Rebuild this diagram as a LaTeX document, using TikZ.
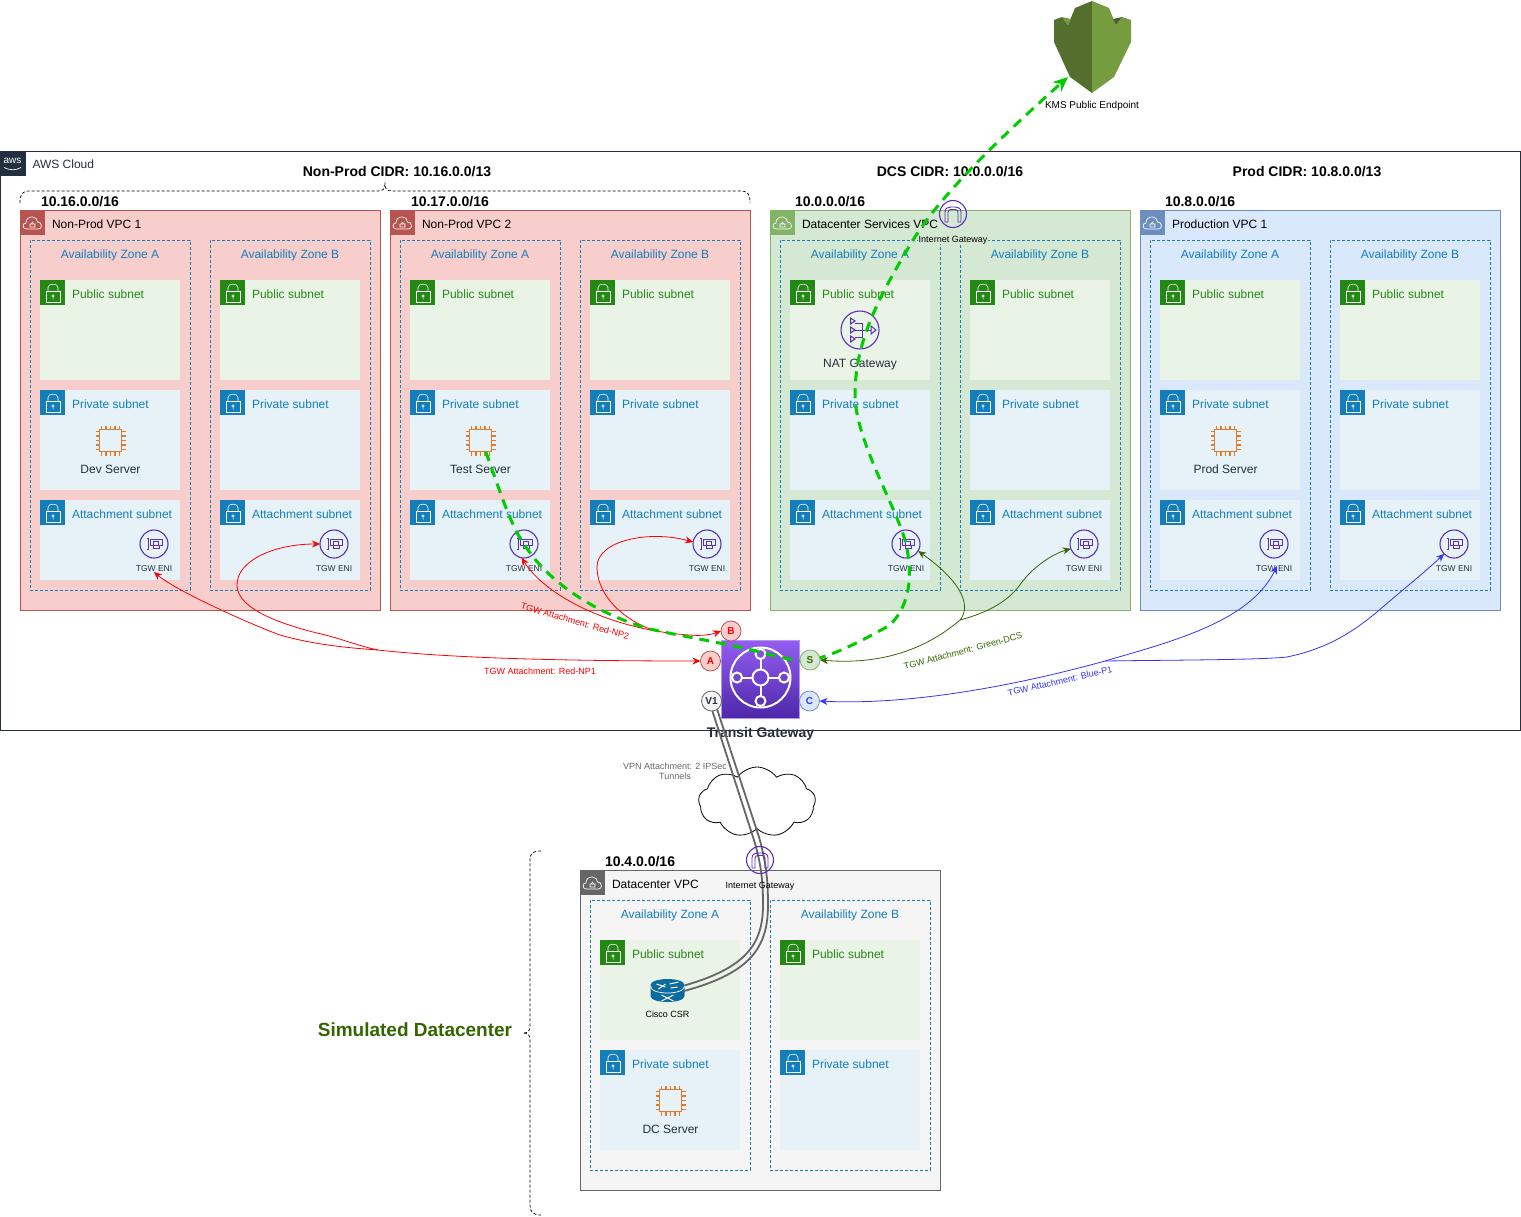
\documentclass[tikz,border=0pt]{standalone}
\usepackage{fontspec}
\setmainfont{Liberation Sans}
\usetikzlibrary{positioning,shapes.symbols,arrows.meta}

\definecolor{awsline}{HTML}{232F3E}
\definecolor{npfill}{HTML}{F8CECC}
\definecolor{npline}{HTML}{B85450}
\definecolor{dcsfill}{HTML}{D5E8D4}
\definecolor{dcsline}{HTML}{82B366}
\definecolor{prodfill}{HTML}{DAE8FC}
\definecolor{prodline}{HTML}{6C8EBF}
\definecolor{simfill}{HTML}{F5F5F5}
\definecolor{simline}{HTML}{666666}
\definecolor{pubfill}{HTML}{E9F3E6}
\definecolor{pubdark}{HTML}{248814}
\definecolor{privfill}{HTML}{E6F2F8}
\definecolor{privdark}{HTML}{147EBA}
\definecolor{iconpurple}{HTML}{5A30B5}
\definecolor{chiporange}{HTML}{E07B2E}
\definecolor{routerblue}{HTML}{0A6C9E}
\definecolor{redflow}{HTML}{FF0000}
\definecolor{greenflow}{HTML}{336600}
\definecolor{blueflow}{HTML}{3333FF}
\definecolor{kmsflow}{HTML}{00CC00}
\definecolor{kmsdark}{HTML}{546E2D}
\definecolor{kmslight}{HTML}{759C3E}
\definecolor{kmsnotch}{HTML}{4B612C}
\definecolor{tgwtop}{HTML}{945DF2}
\definecolor{tgwbottom}{HTML}{4D27AA}
\definecolor{tgwedge}{HTML}{B296F0}

\tikzset{
  >={Stealth[length=8pt,width=7pt]},
  awsframe/.style={draw=awsline, line width=0.9pt, anchor=north west, inner sep=0, outer sep=0},
  vpcframe/.style 2 args={draw=#2, fill=#1, line width=0.8pt, anchor=north west, inner sep=0, outer sep=0, minimum width=360pt},
  headbox/.style={minimum size=25pt, inner sep=0, outer sep=0, anchor=north west},
  azframe/.style={draw=privdark, line width=0.8pt, dash pattern=on 3pt off 2pt, anchor=north west, inner sep=0, outer sep=0, minimum width=160pt},
  subnetbg/.style={minimum width=140pt, inner sep=0, outer sep=0},
  lbl/.style={inner sep=0, outer sep=0, yshift=-1pt, font=\fontsize{12}{14}\selectfont, text height=9pt, text depth=2.5pt},
  smalllbl/.style={inner sep=0, outer sep=0, font=\fontsize{8.5}{10}\selectfont, text=awsline},
  linklbl/.style={inner sep=0, outer sep=0, font=\fontsize{9}{10.5}\selectfont},
  cidrlbl/.style={inner sep=0, outer sep=0, yshift=-1pt, font=\bfseries\fontsize{14}{16}\selectfont},
  iconring/.style={circle, draw=iconpurple, line width=1.1pt, inner sep=0, outer sep=0},
  chipcore/.style={draw=chiporange, line width=1.3pt, minimum size=22pt, inner sep=0, outer sep=0},
  hub/.style={circle, minimum size=20pt, line width=0.8pt, inner sep=0, outer sep=0, font=\bfseries\fontsize{10}{12}\selectfont},
  bracket/.style={draw=black, line width=0.7pt, dash pattern=on 3pt off 2pt},
  redlink/.style={draw=redflow, line width=0.8pt},
  greenlink/.style={draw=greenflow, line width=0.8pt},
  bluelink/.style={draw=blueflow, line width=0.8pt},
  vpnlink/.style={draw=simline, line width=1.8pt},
  kmslink/.style={draw=kmsflow, line width=3pt, dash pattern=on 10pt off 7pt, -{Stealth[length=15pt,width=13pt]}},
  lockglyph/.pic={
    \draw[white, line width=0.6pt] (-6.5,-1.5) rectangle (7.5,9.5);
    \draw[white, line width=0.6pt] (-4.5,-1.5) -- (-4.5,-5) .. controls (-4.5,-9.5) and (5.5,-9.5) .. (5.5,-5) -- (5.5,-1.5);
    \draw[white, line width=0.5pt] (0.5,3.5) circle (1.2) (0.5,4.7) -- (0.5,7);
  },
  cloudglyph/.pic={
    \draw[white, line width=0.7pt] (-6,6.5) .. controls (-10.5,6.5) and (-10.5,0.5) .. (-6.5,0.5) .. controls (-7,-3.5) and (-3,-6) .. (0,-5.5) .. controls (3,-5.5) and (5,-3) .. (5,-0.5) .. controls (9.5,-1) and (10.5,6.5) .. (6,6.5) -- cycle;
    \draw[white, line width=0.6pt] (-2.5,1.5) rectangle (2.5,4.5) (-1.5,1.5) .. controls (-1.5,-1) and (1.5,-1) .. (1.5,1.5);
  },
  eniglyph/.pic={
    \draw[iconpurple, line width=1pt] (-7.5,-5.5) -- (-6,-5.5) -- (-6,5.5) -- (-7.5,5.5);
    \draw[iconpurple, line width=1pt] (-4,-5) -- (8,-5) -- (8,1.5) -- (5.5,1.5) -- (5.5,4.5) -- (-1,4.5) -- (-1,1.5) -- (-4,1.5) -- cycle;
    \draw[iconpurple, line width=0.8pt] (-1,-2.5) rectangle (4,1);
  },
  igwglyph/.pic={
    \draw[iconpurple, line width=0.9pt] (-8,8) -- (-8,-2) .. controls (-8,-6) and (-5,-7) .. (-2,-7) -- (2,-7) .. controls (5,-7) and (8,-6) .. (8,-2) -- (8,8) -- (5,8) -- (5,-2) .. controls (5,-4) and (3,-4.5) .. (2,-4.5) -- (-2,-4.5) .. controls (-3,-4.5) and (-5,-4) .. (-5,-2) -- (-5,8) -- cycle;
  },
  natglyph/.pic={
    \foreach \ny in {-9,0,9} {
      \draw[iconpurple, line width=1pt] (-9.5,\ny-3) -- (-9.5,\ny+3) -- (-5,\ny) -- cycle;
    }
    \draw[iconpurple, line width=1pt] (-5,-7) -- (2,-7) -- (2,7) -- (-5,7) (-5,0) -- (11,0);
    \draw[iconpurple, line width=1pt] (11,-4) -- (16,0) -- (11,4) -- cycle;
  },
  chippins/.pic={
    \foreach \pp in {-8.8,-4.4,0,4.4,8.8} {
      \draw[chiporange, line width=1.3pt] (\pp,-11) -- (\pp,-15) (\pp,11) -- (\pp,15) (-11,\pp) -- (-15,\pp) (11,\pp) -- (15,\pp);
    }
  },
  routerglyph/.pic={
    \fill[routerblue] (-17,-5) -- (-17,6) .. controls (-17,10) and (-8,12) .. (0,12) .. controls (8,12) and (17,10) .. (17,6) -- (17,-5) .. controls (17,-9) and (8,-11) .. (0,-11) .. controls (-8,-11) and (-17,-9) .. (-17,-5) -- cycle;
    \draw[white, line width=0.7pt] (-17,-4) .. controls (-17,1) and (-8,3) .. (0,3) .. controls (8,3) and (17,1) .. (17,-4);
    \draw[white, line width=1pt] (-11,-6) -- (-2,-3) (2,-6) -- (11,-8) (-9,-1) -- (-2,-6) (3,-2) -- (10,-3);
    \draw[white, line width=1pt] (-6,5) -- (6,11) (6,5) -- (-6,11);
  }
}

% one subnet: green or blue panel, padlock square, caption
\newcommand{\subnetbox}[6]{
  \node[subnetbg, fill=#4, minimum height=#3pt, #2] (#1) {};
  \node[headbox, fill=#5] (#1head) at (#1.north west) {};
  \pic at (#1head.center) {lockglyph};
  \node[lbl, text=#5, right=7pt of #1head, yshift=-1.5pt] (#1txt) {#6};
}

% one zone with its public and private subnets
\newcommand{\azcolumn}[4]{
  \node[azframe, minimum height=#4pt] (#1) at (#2,#3) {};
  \subnetbox{#1pub}{below right=40pt and 10pt of #1.north west, anchor=north west}{100}{pubfill}{pubdark}{Public subnet}
  \subnetbox{#1priv}{below=10pt of #1pub}{100}{privfill}{privdark}{Private subnet}
}

% vpc panel and header
\newcommand{\vpcblock}[7]{
  \node[vpcframe={#5}{#6}, minimum height=#4pt] (#1) at (#2,#3) {};
  \node[headbox, fill=#6] (#1head) at (#1.north west) {};
  \pic at (#1head.center) {cloudglyph};
  \node[lbl, text=black, right=7pt of #1head, yshift=-1.5pt] (#1title) {#7};
}

% attachment subnet with its eni
\newcommand{\attachrow}[2]{
  \subnetbox{#1att}{below=10pt of #1priv}{80}{privfill}{privdark}{Attachment subnet}
  \node[iconring, minimum size=28pt] (#1eni) at (#2,544) {};
  \pic at (#1eni) {eniglyph};
  \node[smalllbl] (#1enitxt) at (#2,569) {TGW ENI};
}

\begin{document}
\begin{tikzpicture}[x=1pt,y=-1pt]
  \useasboundingbox (0,0) rectangle (1521,1216);

  % AWS cloud frame
  \node[awsframe, minimum width=1520pt, minimum height=579pt] (awscloud) at (0.5,151) {};
  \node[headbox, fill=awsline] (awshead) at (awscloud.north west) {};
  \node[inner sep=0, text=white, font=\fontsize{10}{10}\selectfont] (awslogo) at (12.5,160.5) {aws};
  \draw[white, line width=0.7pt] (4,167.5) .. controls (10,170.5) and (16,170.5) .. (21,167.5);
  \node[lbl, text=awsline, right=7pt of awshead, yshift=-1pt] (awstitle) {AWS Cloud};

  % CIDR captions
  \node[cidrlbl] (npcidr) at (397,171) {Non-Prod CIDR: 10.16.0.0/13};
  \node[cidrlbl] (dcscidr) at (950,171) {DCS CIDR: 10.0.0.0/16};
  \node[cidrlbl] (prodcidr) at (1307,171) {Prod CIDR: 10.8.0.0/13};
  \node[cidrlbl, anchor=west] (np1cidr) at (41,201) {10.16.0.0/16};
  \node[cidrlbl, anchor=west] (np2cidr) at (411,201) {10.17.0.0/16};
  \node[cidrlbl, anchor=west] (dcsvpccidr) at (795,201) {10.0.0.0/16};
  \node[cidrlbl, anchor=west] (prodvpccidr) at (1165,201) {10.8.0.0/16};
  \node[cidrlbl, anchor=west] (simcidr) at (605,861) {10.4.0.0/16};

  % Non-Prod bracket
  \coordinate (npbrakeleft) at (20,203);
  \coordinate (npbrakeright) at (750,203);
  \draw[bracket] (npbrakeleft) .. controls (20,194) and (22,191) .. (30,191) -- (378,191) .. controls (383,191) and (385,189) .. (385,184) .. controls (385,189) and (387,191) .. (392,191) -- (740,191) .. controls (748,191) and (750,194) .. (npbrakeright);

  % VPCs
  \foreach \vn/\vx/\vfill/\vline/\vtext/\enia/\enib in {
    np1/20/npfill/npline/Non-Prod VPC 1/154/334,
    np2/390/npfill/npline/Non-Prod VPC 2/524/707,
    dcs/770/dcsfill/dcsline/Datacenter Services VPC/906/1084,
    prod/1140/prodfill/prodline/Production VPC 1/1274/1454} {
    \vpcblock{\vn}{\vx}{210}{400}{\vfill}{\vline}{\vtext}
    \azcolumn{\vn a}{\vx+10}{240}{350}
    \azcolumn{\vn b}{\vx+190}{240}{350}
    \node[lbl, text=privdark, below=8pt of \vn a.north] (\vn atxt) {Availability Zone A};
    \node[lbl, text=privdark, below=8pt of \vn b.north] (\vn btxt) {Availability Zone B};
    \attachrow{\vn a}{\enia}
    \attachrow{\vn b}{\enib}
  }

  % NAT gateway
  \node[iconring, minimum size=38pt] (natgw) at (860,330) {};
  \pic at (natgw) {natglyph};
  \node[lbl, text=awsline, below=8pt of natgw] (natgwtxt) {NAT Gateway};

  % Internet gateway of the DCS VPC
  \node[smalllbl, font=\fontsize{9}{10}\selectfont, fill=dcsfill, inner xsep=1pt, text=black] (dcsigwtxt) at (953,240) {Internet Gateway};
  \node[iconring, minimum size=27pt] (dcsigw) at (953,214) {};
  \pic at (dcsigw) {igwglyph};

  % KMS shield
  \fill[kmsdark] (1092,1) -- (1075,8) -- (1068,25) -- (1062,17) -- (1054,20) -- (1054,42) -- (1070,77) -- (1092,93) -- cycle;
  \fill[kmslight] (1092,1) -- (1109,8) -- (1116,25) -- (1122,17) -- (1131,20) -- (1131,42) -- (1114,77) -- (1092,93) -- cycle;
  \fill[kmslight] (1062,17) -- (1068,25) -- (1071,19) -- cycle;
  \fill[kmsnotch] (1122,17) -- (1116,25) -- (1113,19) -- cycle;
  \node[smalllbl, font=\fontsize{10}{11}\selectfont, text=black] (kmstxt) at (1092,106) {KMS Public Endpoint};
  \coordinate (kmsgate) at (1068,77);

  % Simulated datacenter
  \node[lbl, font=\bfseries\fontsize{19}{21}\selectfont, text=greenflow, text height=13pt, text depth=4pt] (simtxt) at (415,1031) {Simulated Datacenter};
  \coordinate (simbrakeup) at (541,851);
  \coordinate (simbrakedown) at (541,1215);
  \draw[bracket] (simbrakeup) .. controls (533,851) and (530,853) .. (530,860) -- (530,1026) .. controls (530,1031) and (528,1033) .. (523,1033) .. controls (528,1033) and (530,1035) .. (530,1040) -- (530,1205) .. controls (530,1212) and (533,1215) .. (simbrakedown);

  \vpcblock{sim}{580}{870}{320}{simfill}{simline}{Datacenter VPC}
  \azcolumn{sima}{590}{900}{270}
  \azcolumn{simb}{770}{900}{270}
  \node[lbl, text=privdark, below=8pt of sima.north] (simatxt) {Availability Zone A};
  \node[lbl, text=privdark, below=8pt of simb.north] (simbtxt) {Availability Zone B};

  % Servers
  \foreach \sn/\sx/\sy/\stext in {devsrv/110.5/440.5/Dev Server, testsrv/480.5/440.5/Test Server, prodsrv/1225.5/440.5/Prod Server, dcsrv/670.5/1100.5/DC Server} {
    \node[chipcore] (\sn) at (\sx,\sy) {};
    \pic at (\sn) {chippins};
    \node[lbl, text=awsline, below=12pt of \sn] (\sn txt) {\stext};
  }

  % Cisco router
  \node[minimum width=34pt, minimum height=24pt, inner sep=0, outer sep=0] (cscrouter) at (667.5,990) {};
  \pic at (cscrouter) {routerglyph};
  \node[smalllbl, font=\fontsize{9}{10}\selectfont, text=black] (cscrtxt) at (667.5,1014) {Cisco CSR};

  % VPN cloud
  \node[cloud, draw=black, fill=white, line width=0.8pt, cloud puffs=9, cloud puff arc=110, aspect=1.65, minimum width=117pt, minimum height=70pt, inner sep=0, outer sep=0] (vpncloud) at (757,802) {};
  \node[smalllbl, font=\fontsize{9}{10}\selectfont, text=simline, align=center] (vpntxt) at (675,771) {VPN Attachment: 2 IPSec\\Tunnels};

  % Transit gateway
  \node[top color=tgwtop, bottom color=tgwbottom, draw=tgwedge, line width=0.8pt, minimum size=78pt, inner sep=0, outer sep=0] (tgw) at (760.5,679.5) {};
  \draw[white, line width=2pt] (760.5,677.5) circle (30);
  \draw[white, line width=2pt] (760.5,654) -- (760.5,701) (737,677.5) -- (784,677.5);
  \foreach \cx/\cy/\cr/\cfill in {760.5/654/5/8451E0, 737/677.5/5/7143CF, 784/677.5/5/7143CF, 760.5/701/5/5D35B9, 760.5/677.5/8/7143CF} {
    \definecolor{cellfill}{HTML}{\cfill}
    \draw[white, fill=cellfill, line width=2pt] (\cx,\cy) circle (\cr);
  }
  \node[lbl, font=\bfseries\fontsize{14}{16}\selectfont, text=awsline, text height=10pt, text depth=3pt] (tgwtxt) at (760.5,733) {Transit Gateway};

  % Attachment points
  \node[hub, draw=npline, fill=npfill, text=redflow] (hubb) at (731,631) {B};
  \node[hub, draw=npline, fill=npfill, text=redflow] (huba) at (710.5,661) {A};
  \node[hub, draw=prodline, fill=prodfill, text=blueflow] (hubc) at (809.5,701) {C};
  \node[hub, draw=simline, fill=simfill, text=awsline] (hubv) at (711.5,701) {V1};

  % Red attachments
  \coordinate (npforka) at (378,650);
  \coordinate (npforkb) at (650,629);
  \draw[redlink, <->] (np1aenitxt.south) .. controls (175,590) and (245,622) .. (280,635) .. controls (315,645) and (350,648) .. (npforka) .. controls (450,658) and (560,661) .. (huba.west);
  \draw[redlink, ->] (npforka) .. controls (355,645) and (340,638) .. (317,633) .. controls (285,625) and (237,610) .. (237,585) .. controls (237,560) and (275,544) .. (np1beni.west);
  \draw[redlink, <->] (np2aeni.-100) .. controls (545,595) and (610,630) .. (690,635) .. controls (700,636) and (710,635) .. (hubb.west);
  \draw[redlink, ->] (npforkb) .. controls (615,615) and (597,590) .. (597,567) .. controls (597,540) and (650,530) .. (np2beni.172);
  \node[linklbl, text=redflow] (rednp1txt) at (540,671) {TGW Attachment: Red-NP1};
  \node[linklbl, text=redflow, rotate=-16] (rednp2txt) at (575,621) {TGW Attachment: Red-NP2};

  % Blue attachments
  \coordinate (prodfork) at (1105,661);
  \draw[bluelink, <->] (hubc.east) .. controls (900,705) and (1000,690) .. (prodfork) .. controls (1170,642) and (1250,622) .. (prodaenitxt.45);
  \draw[bluelink, ->] (prodfork) .. controls (1170,660) and (1260,660) .. (1287,657) .. controls (1330,648) and (1355,630) .. (1377,612) .. controls (1400,592) and (1425,572) .. (prodbeni.-135);
  \node[linklbl, text=blueflow, rotate=13] (blueptxt) at (1060,681) {TGW Attachment: Blue-P1};

  % VPN tunnels
  \draw[vpnlink] (hubv.-85) -- (753,837) .. controls (761,862) and (763,880) .. (763,905) .. controls (763,945) and (745,968) .. (cscrouter.15);
  \draw[vpnlink] (hubv.-56) -- (759,837) .. controls (766,862) and (768,880) .. (768,905) .. controls (768,948) and (750,973) .. (cscrouter.-3);

  % Internet gateway of the simulated datacenter
  \node[iconring, minimum size=27pt] (simigw) at (760,860) {};
  \pic at (simigw) {igwglyph};
  \node[smalllbl, font=\fontsize{9}{10}\selectfont, text=black] (simigwtxt) at (760,886) {Internet Gateway};

  % Traffic path towards KMS
  \coordinate (tgwvia) at (760,652);
  \coordinate (dcsvia) at (890,625);
  \coordinate (natvia) at (855,395);
  \coordinate (igwvia) at (913,240);
  \coordinate (hubspot) at (810,660);
  \draw[kmslink] (testsrv.-65) .. controls (498,485) and (510,525) .. (np2aeni.center) .. controls (545,578) and (590,612) .. (npforkb) .. controls (680,636) and (720,642) .. (tgwvia) .. controls (775,656) and (795,662) .. (hubspot) .. controls (830,657) and (860,642) .. (dcsvia) .. controls (905,610) and (915,585) .. (dcsaeni.center) .. controls (898,510) and (855,440) .. (natvia) .. controls (855,340) and (880,295) .. (igwvia) .. controls (935,205) and (975,160) .. (kmsgate);

  % Green attachments
  \node[hub, draw=dcsline, fill=dcsfill, text=greenflow] (hubs) at (810,660) {S};
  \coordinate (dcsfork) at (960,620);
  \draw[greenlink, <->] (hubs.east) .. controls (880,665) and (925,650) .. (dcsfork) .. controls (970,608) and (966,585) .. (dcsaeni.-30);
  \draw[greenlink, ->] (dcsfork) .. controls (990,612) and (1010,600) .. (1022,582) .. controls (1035,565) and (1055,553) .. (dcsbeni.200);
  \node[linklbl, text=greenflow, rotate=15] (greentxt) at (963,651) {TGW Attachment: Green-DCS};
\end{tikzpicture}
\end{document}
